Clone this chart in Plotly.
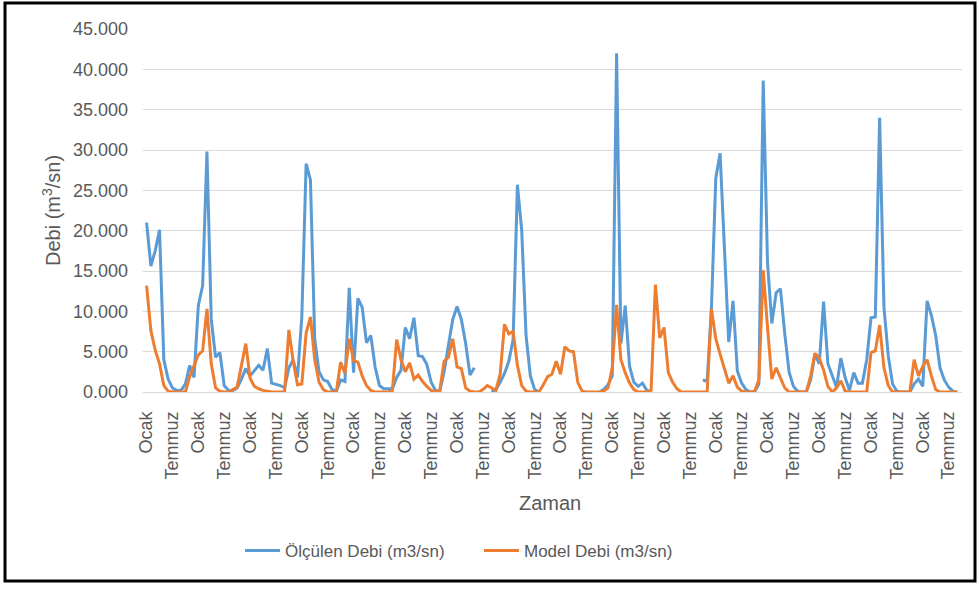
import plotly.graph_objects as go

# ---- data (m3/sn), monthly, starting with Ocak ----
olculen_debi = [
    21.0, 15.6, 17.5, 20.1, 4.0, 1.6, 0.5, 0.2, 0.2, 1.0, 3.3, 1.8,
    10.7, 13.2, 29.8, 9.0, 4.3, 4.9, 0.8, 0.2, 0.2, 0.5, 1.6, 2.9,
    2.0, 2.7, 3.3, 2.7, 5.4, 1.1, 0.9, 0.8, 0.5, 3.0, 4.0, 1.8,
    9.3, 28.3, 26.3, 6.5, 2.5, 1.5, 1.3, 0.3, 0.1, 1.5, 1.3, 12.9,
    2.4, 11.6, 10.5, 6.1, 7.0, 3.1, 0.8, 0.4, 0.4, 0.4, 1.8, 2.7,
    8.0, 6.6, 9.2, 4.5, 4.4, 3.4, 1.2, 0.2, 0.1, 2.5, 5.8, 9.0,
    10.6, 9.0, 6.0, 2.1, 3.0, None, None, None, 0.0, 0.3, 1.2, 2.3,
    3.8, 6.5, 25.7, 20.0, 7.0, 2.0, 0.3, 0.0, None, None, None, None,
    None, None, None, None, None, None, None, None, None, 0.0, 0.3, 0.9,
    2.0, 42.0, 6.0, 10.7, 3.2, 1.2, 0.7, 1.1, 0.2, 0.0, None, None,
    None, None, None, None, None, None, None, None, None, 1.5, 1.3, 10.5,
    26.5, 29.6, 18.0, 6.2, 11.3, 2.6, 1.1, 0.3, 0.0, 0.0, 1.0, 38.6,
    16.0, 8.5, 12.3, 12.8, 7.2, 2.5, 0.7, 0.1, 0.0, 0.0, 1.5, 4.7,
    3.5, 11.2, 3.5, 2.0, 0.6, 4.2, 1.8, 0.2, 2.4, 1.1, 1.1, 4.0,
    9.2, 9.3, 34.0, 10.5, 4.5, 1.0, 0.1, 0.0, 0.0, 0.0, 1.0, 1.6,
    0.7, 11.3, 9.5, 7.0, 3.0, 1.5, 0.6, 0.1, 0.0,
]

model_debi = [
    13.2, 7.6, 5.2, 3.5, 0.8, 0.1, 0.0, 0.0, 0.0, 0.0, 1.9, 3.3,
    4.6, 5.1, 10.3, 3.5, 0.5, 0.1, 0.0, 0.0, 0.3, 0.6, 3.3, 6.0,
    1.7, 0.7, 0.4, 0.2, 0.1, 0.0, 0.0, 0.0, 0.0, 7.7, 3.8, 0.9,
    1.0, 7.3, 9.3, 4.0, 1.2, 0.3, 0.0, 0.0, 0.0, 3.7, 2.3, 6.6,
    3.9, 3.7, 2.0, 0.8, 0.2, 0.0, 0.0, 0.0, 0.0, 0.2, 6.5, 4.0,
    2.5, 3.6, 1.6, 2.1, 1.3, 0.7, 0.2, 0.0, 0.2, 3.8, 4.3, 6.6,
    3.1, 2.9, 0.5, 0.1, 0.0, 0.0, 0.3, 0.8, 0.5, 0.2, 2.2, 8.4,
    7.2, 7.5, 3.3, 0.8, 0.1, 0.0, 0.0, 0.0, 0.9, 1.9, 2.2, 3.8,
    2.2, 5.6, 5.1, 5.0, 1.2, 0.1, 0.0, 0.0, 0.0, 0.0, 0.1, 0.5,
    3.0, 10.8, 4.0, 2.4, 1.1, 0.3, 0.0, 0.0, 0.0, 0.2, 13.3, 6.7,
    8.0, 2.4, 1.2, 0.4, 0.0, 0.0, 0.0, 0.0, 0.0, 0.0, 0.0, 10.3,
    6.6, 4.7, 3.0, 1.1, 2.0, 0.6, 0.1, 0.0, 0.0, 0.1, 1.5, 15.1,
    8.0, 1.6, 3.0, 1.8, 0.5, 0.0, 0.0, 0.0, 0.0, 0.0, 2.0, 4.8,
    4.2, 2.7, 0.7, 0.0, 0.5, 1.4, 0.1, 0.0, 0.0, 0.0, 0.0, 0.0,
    4.9, 5.1, 8.3, 3.0, 0.8, 0.0, 0.0, 0.0, 0.0, 0.0, 4.0, 2.0,
    3.2, 4.0, 2.0, 0.3, 0.0, 0.0, 0.0, 0.0, 0.0,
]

tick_labels = ["Ocak", "Temmuz"] * 16
months = list(range(len(model_debi)))
tick_positions = list(range(0, 6 * len(tick_labels), 6))

series_names = ["Ölçülen Debi (m3/sn)", "Model Debi (m3/sn)"]
series_colors = ["#5B9BD5", "#ED7D31"]

# ---- figure ----
L, R, T, B = 143, 16, 29, 200
W, H = 978, 592
pw, ph = W - L - R, H - T - B


def px_x(p):
    return (p - L) / pw


def px_y(p):
    return (H - B - p) / ph


fig = go.Figure()
for vals, name, col in zip([olculen_debi, model_debi], series_names, series_colors):
    fig.add_trace(go.Scatter(
        x=months, y=vals, mode="lines", name=name,
        line=dict(color=col, width=3), connectgaps=False,
    ))

txt = "#595959"
font_family = "Liberation Sans, Arial, sans-serif"

fig.update_layout(
    width=W, height=H,
    margin=dict(l=L, r=R, t=T, b=B, autoexpand=False),
    paper_bgcolor="white", plot_bgcolor="white",
    font=dict(family=font_family, color=txt, size=18),
    showlegend=True,
    legend=dict(
        orientation="h", x=px_x(240), xanchor="left",
        y=px_y(551), yanchor="middle",
        font=dict(size=17, color=txt), itemwidth=35,
        entrywidth=189, entrywidthmode="pixels",
        bgcolor="rgba(0,0,0,0)",
    ),
    xaxis=dict(
        range=[-0.83, 189.1], tickmode="array",
        tickvals=tick_positions, ticktext=tick_labels,
        tickangle=-90, showgrid=False, zeroline=False,
        showline=False, ticks="", ticklabelstandoff=15,
        tickfont=dict(size=18, color=txt),
    ),
    yaxis=dict(
        range=[0, 45], dtick=5, tick0=0, tickformat=".3f",
        showgrid=True, gridcolor="#D9D9D9", gridwidth=1,
        zeroline=True, zerolinecolor="#D9D9D9", zerolinewidth=1,
        showline=False, ticks="", ticklabelstandoff=14,
        tickfont=dict(size=18, color=txt),
    ),
    annotations=[
        dict(text="Debi (m<sup>3</sup>/sn)", xref="paper", yref="paper",
             x=px_x(52), y=px_y(211), textangle=-90, showarrow=False,
             xanchor="center", yanchor="middle",
             font=dict(size=20, color=txt)),
        dict(text="Zaman", xref="paper", yref="paper",
             x=px_x(550), y=px_y(503), showarrow=False,
             xanchor="center", yanchor="middle",
             font=dict(size=20, color=txt)),
    ],
    shapes=[
        dict(type="rect", xref="paper", yref="paper",
             x0=px_x(5), x1=px_x(975), y0=px_y(581), y1=px_y(3),
             line=dict(color="black", width=3), fillcolor="rgba(0,0,0,0)",
             layer="above"),
    ],
)

fig.write_html(
    "out.html",
    config={"displayModeBar": False},
    post_script="document.body.style.margin='0px';document.body.style.padding='0px';",
)
